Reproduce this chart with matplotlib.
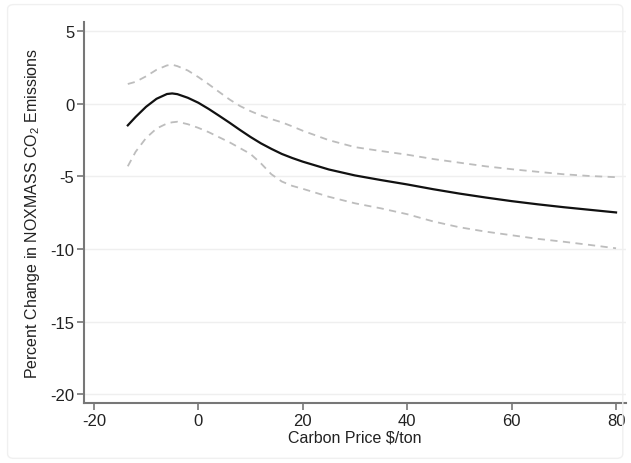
import matplotlib
matplotlib.use("Agg")
import matplotlib.pyplot as plt
from matplotlib.patches import FancyBboxPatch

plt.rcParams['font.family'] = ['Liberation Sans', 'DejaVu Sans']
plt.rcParams['mathtext.fontset'] = 'custom'
plt.rcParams['mathtext.rm'] = 'Liberation Sans'
plt.rcParams['mathtext.it'] = 'Liberation Sans'

price = [-13.5, -12, -10, -8, -6, -5, -4, -2, 0, 2, 4, 6, 8, 10, 12, 14, 16, 18, 20,
         25, 30, 35, 40, 45, 50, 55, 60, 65, 70, 75, 80]
estimate = [-1.48, -0.9, -0.2, 0.35, 0.68, 0.72, 0.67, 0.42, 0.08, -0.35, -0.82, -1.3,
            -1.8, -2.28, -2.72, -3.1, -3.45, -3.73, -3.98, -4.52, -4.93, -5.25, -5.55,
            -5.88, -6.18, -6.45, -6.7, -6.92, -7.12, -7.3, -7.48]
upper = [1.37, 1.52, 1.9, 2.35, 2.65, 2.7, 2.6, 2.3, 1.85, 1.35, 0.82, 0.3, -0.15, -0.5,
         -0.8, -1.05, -1.27, -1.55, -1.85, -2.5, -2.98, -3.25, -3.5, -3.8, -4.05, -4.3,
         -4.5, -4.68, -4.85, -4.97, -5.05]
lower = [-4.3, -3.3, -2.35, -1.7, -1.35, -1.27, -1.23, -1.4, -1.65, -1.95, -2.3, -2.65,
         -3.05, -3.45, -4.1, -4.85, -5.35, -5.65, -5.85, -6.4, -6.85, -7.2, -7.6, -8.1,
         -8.5, -8.8, -9.05, -9.3, -9.5, -9.72, -9.95]

xticks = [-20, 0, 20, 40, 60, 80]
yticks = [5, 0, -5, -10, -15, -20]

fig = plt.figure(figsize=(6.31, 4.64), dpi=100)
fig.patch.set_facecolor('white')
frame = FancyBboxPatch((0.012, 0.01), 0.975, 0.978, boxstyle="round,pad=0,rounding_size=0.01",
                       transform=fig.transFigure, facecolor='none', edgecolor='#f0f0f0',
                       linewidth=1.0)
fig.patches.append(frame)

ax = fig.add_axes([0.133, 0.129, 0.859, 0.822])
ax.set_xlim(-21.9, 81.9)
ax.set_ylim(-20.62, 5.66)

for yv in yticks:
    ax.axhline(yv, color='#efefef', linewidth=1.0, zorder=0)

ax.plot(price, upper, color='#bdbdbd', linewidth=1.3, linestyle=(0, (4, 3)))
ax.plot(price, lower, color='#bdbdbd', linewidth=1.3, linestyle=(0, (4, 3)))
ax.plot(price, estimate, color='#111111', linewidth=1.6)

ax.set_xticks(xticks)
ax.set_yticks(yticks)
ax.set_xticklabels([str(v) for v in xticks])
ax.set_yticklabels([str(v) for v in yticks])

for s in ['top', 'right']:
    ax.spines[s].set_visible(False)
for s in ['left', 'bottom']:
    ax.spines[s].set_color('#777777')
    ax.spines[s].set_linewidth(1.5)

ax.tick_params(axis='both', colors='#777777', length=5, width=1.2, labelsize=12,
               labelcolor='#222222', direction='out')
ax.tick_params(axis='y', pad=2)
ax.tick_params(axis='x', pad=2)

ax.set_xlabel(r'Carbon Price \$/ton', fontsize=11.5, color='#222222', labelpad=1)
ax.set_ylabel(r'Percent Change in NOXMASS CO$_2$ Emissions', fontsize=11.5,
              color='#222222', labelpad=6)

fig.savefig('out.png', dpi=100, facecolor='white')
